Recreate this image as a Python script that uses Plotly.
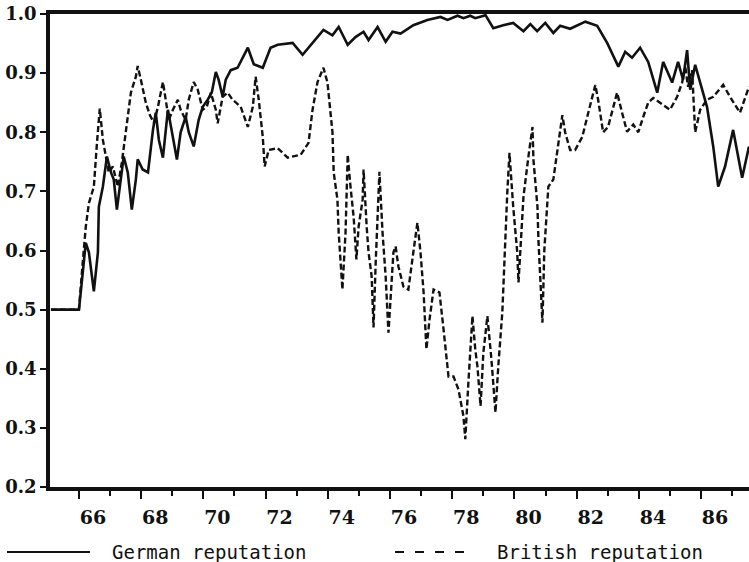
import plotly.graph_objects as go

german_x = [65.10, 66.00, 66.06, 66.22, 66.32, 66.48, 66.61, 66.64, 66.77, 66.90, 67.03, 67.12, 67.22,
            67.32, 67.44, 67.57, 67.70, 67.83, 67.89, 68.05, 68.22, 68.38, 68.47, 68.57, 68.70, 68.86,
            68.99, 69.15, 69.27, 69.43, 69.53, 69.69, 69.85, 69.98, 70.14, 70.27, 70.40, 70.49, 70.62,
            70.72, 70.88, 71.10, 71.43, 71.62, 71.91, 72.16, 72.39, 72.87, 73.19, 73.45, 73.86, 74.15,
            74.35, 74.64, 74.89, 75.15, 75.31, 75.60, 75.86, 76.08, 76.34, 76.75, 77.20, 77.62, 77.85,
            78.17, 78.36, 78.58, 78.74, 79.07, 79.32, 79.64, 79.96, 80.29, 80.51, 80.73, 80.99, 81.25,
            81.47, 81.79, 82.28, 82.66, 82.98, 83.34, 83.56, 83.78, 84.04, 84.30, 84.59, 84.78, 85.07,
            85.26, 85.42, 85.55, 85.65, 85.81, 85.97, 86.19, 86.39, 86.55, 86.77, 87.03, 87.32, 87.54]
german_y = [0.500, 0.500, 0.530, 0.613, 0.597, 0.531, 0.597, 0.674, 0.708, 0.759, 0.732, 0.720, 0.669,
            0.708, 0.759, 0.732, 0.669, 0.720, 0.754, 0.737, 0.732, 0.804, 0.833, 0.787, 0.757, 0.838,
            0.800, 0.754, 0.800, 0.826, 0.800, 0.776, 0.821, 0.843, 0.855, 0.867, 0.902, 0.889, 0.860,
            0.889, 0.905, 0.909, 0.943, 0.915, 0.909, 0.943, 0.948, 0.951, 0.931, 0.948, 0.973, 0.964,
            0.978, 0.948, 0.961, 0.970, 0.956, 0.978, 0.953, 0.970, 0.967, 0.981, 0.990, 0.995, 0.990,
            0.997, 0.993, 0.997, 0.993, 0.998, 0.976, 0.981, 0.985, 0.971, 0.983, 0.971, 0.985, 0.968,
            0.980, 0.975, 0.987, 0.980, 0.951, 0.911, 0.936, 0.926, 0.943, 0.919, 0.867, 0.919, 0.884,
            0.919, 0.889, 0.939, 0.872, 0.914, 0.884, 0.843, 0.776, 0.708, 0.742, 0.804, 0.723, 0.776]

british_x = [65.10, 66.00, 66.13, 66.22, 66.32, 66.48, 66.58, 66.67, 66.77, 66.87, 66.96, 67.09, 67.25,
             67.38, 67.51, 67.67, 67.83, 67.89, 67.99, 68.15, 68.28, 68.41, 68.54, 68.70, 68.79, 68.89,
             69.02, 69.18, 69.27, 69.43, 69.53, 69.69, 69.82, 69.98, 70.11, 70.24, 70.40, 70.46, 70.62,
             70.78, 70.94, 71.20, 71.43, 71.59, 71.68, 71.78, 71.91, 71.97, 72.10, 72.39, 72.71, 73.13,
             73.38, 73.51, 73.67, 73.86, 73.99, 74.15, 74.19, 74.31, 74.35, 74.47, 74.57, 74.64, 74.73,
             74.83, 74.92, 74.99, 75.12, 75.15, 75.25, 75.31, 75.41, 75.47, 75.54, 75.60, 75.66, 75.76,
             75.86, 75.95, 76.02, 76.11, 76.18, 76.27, 76.43, 76.59, 76.75, 76.88, 76.98, 77.08, 77.17,
             77.27, 77.40, 77.59, 77.72, 77.88, 78.04, 78.20, 78.36, 78.42, 78.52, 78.65, 78.74, 78.81,
             78.91, 79.00, 79.13, 79.26, 79.39, 79.48, 79.61, 79.71, 79.77, 79.84, 79.96, 80.09, 80.13,
             80.19, 80.29, 80.45, 80.58, 80.61, 80.74, 80.77, 80.83, 80.90, 80.96, 81.06, 81.09, 81.25,
             81.38, 81.47, 81.54, 81.63, 81.79, 81.95, 82.18, 82.34, 82.60, 82.69, 82.85, 83.01, 83.18,
             83.30, 83.46, 83.62, 83.82, 83.98, 84.14, 84.30, 84.46, 84.78, 85.00, 85.23, 85.39, 85.49,
             85.58, 85.71, 85.81, 85.97, 86.19, 86.39, 86.71, 86.93, 87.25, 87.54]
british_y = [0.500, 0.500, 0.585, 0.640, 0.680, 0.708, 0.782, 0.840, 0.787, 0.759, 0.732, 0.742, 0.708,
             0.749, 0.800, 0.867, 0.894, 0.912, 0.889, 0.850, 0.829, 0.816, 0.843, 0.885, 0.855, 0.821,
             0.838, 0.855, 0.838, 0.821, 0.855, 0.885, 0.872, 0.838, 0.843, 0.867, 0.838, 0.815, 0.860,
             0.867, 0.855, 0.843, 0.809, 0.843, 0.894, 0.855, 0.792, 0.742, 0.770, 0.773, 0.757, 0.762,
             0.782, 0.838, 0.885, 0.909, 0.884, 0.800, 0.732, 0.686, 0.630, 0.534, 0.630, 0.762, 0.708,
             0.657, 0.585, 0.640, 0.686, 0.737, 0.640, 0.597, 0.556, 0.470, 0.580, 0.664, 0.733, 0.630,
             0.556, 0.461, 0.529, 0.597, 0.607, 0.573, 0.539, 0.534, 0.597, 0.647, 0.597, 0.529, 0.433,
             0.483, 0.534, 0.529, 0.467, 0.387, 0.387, 0.365, 0.320, 0.281, 0.377, 0.489, 0.433, 0.404,
             0.337, 0.427, 0.489, 0.416, 0.326, 0.404, 0.495, 0.630, 0.698, 0.765, 0.674, 0.597, 0.546,
             0.600, 0.691, 0.759, 0.809, 0.754, 0.674, 0.619, 0.556, 0.478, 0.600, 0.674, 0.708, 0.720,
             0.770, 0.809, 0.829, 0.800, 0.770, 0.770, 0.792, 0.826, 0.880, 0.855, 0.800, 0.809, 0.843,
             0.867, 0.833, 0.801, 0.813, 0.800, 0.826, 0.850, 0.858, 0.846, 0.838, 0.860, 0.884, 0.911,
             0.877, 0.905, 0.800, 0.838, 0.855, 0.860, 0.880, 0.860, 0.833, 0.877]

x_ticks = [66, 68, 70, 72, 74, 76, 78, 80, 82, 84, 86]
y_ticks = [0.2, 0.3, 0.4, 0.5, 0.6, 0.7, 0.8, 0.9, 1.0]
x_range = [65.07, 87.54]
y_range = [0.2, 1.0]
series_names = ["German reputation", "British reputation"]

INK = "#111111"

fig = go.Figure()
fig.add_trace(go.Scatter(x=british_x, y=british_y, mode="lines", name=series_names[1],
                         line=dict(color=INK, width=2.4, dash="6px,3px")))
fig.add_trace(go.Scatter(x=german_x, y=german_y, mode="lines", name=series_names[0],
                         line=dict(color=INK, width=2.6)))

fig.update_layout(
    width=749, height=562,
    margin=dict(l=50, r=0, t=14, b=75),
    paper_bgcolor="white", plot_bgcolor="white",
    showlegend=False,
    xaxis=dict(range=x_range, tickvals=x_ticks, ticktext=[str(v) for v in x_ticks],
               showgrid=False, zeroline=False, showline=True, linecolor=INK, linewidth=3.5,
               mirror=True, ticks="outside", ticklen=8, tickwidth=2, tickcolor=INK,
               ticklabelshift=14, ticklabelstandoff=2,
               minor=dict(dtick=1, tick0=66, ticks="outside", ticklen=5, tickwidth=2, tickcolor=INK),
               tickfont=dict(family="DejaVu Serif", size=19, color=INK, weight="bold")),
    yaxis=dict(range=y_range, tickvals=y_ticks, ticktext=["%.1f" % v for v in y_ticks],
               showgrid=False, zeroline=False, showline=True, linecolor=INK, linewidth=3.5,
               ticks="outside", ticklen=6, tickwidth=2, tickcolor=INK,
               tickfont=dict(family="DejaVu Serif", size=18, color=INK, weight="bold")),
)

# legend drawn beneath the axis
fig.add_shape(type="line", xref="paper", yref="paper", x0=-0.0615, x1=0.0572, y0=-0.1374, y1=-0.1374,
              line=dict(color=INK, width=2))
fig.add_shape(type="line", xref="paper", yref="paper", x0=0.4936, x1=0.5951, y0=-0.1374, y1=-0.1374,
              line=dict(color=INK, width=2, dash="9px,11px"))
fig.add_annotation(text=series_names[0], xref="paper", yref="paper", x=0.0858, y=-0.1374,
                   xanchor="left", yanchor="middle", showarrow=False,
                   font=dict(family="DejaVu Sans Mono", size=19, color=INK))
fig.add_annotation(text=series_names[1], xref="paper", yref="paper", x=0.6366, y=-0.1374,
                   xanchor="left", yanchor="middle", showarrow=False,
                   font=dict(family="DejaVu Sans Mono", size=19, color=INK))

fig.write_html("out.html")
